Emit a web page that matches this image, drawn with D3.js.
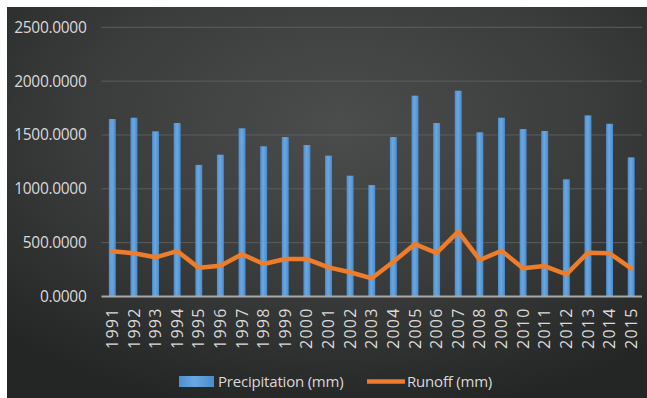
<!DOCTYPE html>
<html>
<head>
<meta charset="utf-8">
<script src="https://cdn.jsdelivr.net/npm/d3@7"></script>
<style>
  html, body { margin: 0; padding: 0; background: #ffffff; }
  svg { display: block; }
  text { font-family: "Open Sans", "Noto Sans", sans-serif; fill: #d9d9d9; }
</style>
</head>
<body>
<svg id="chart" width="647" height="398"></svg>
<script>
// Annual precipitation and runoff, 1991–2015
const years = ["1991","1992","1993","1994","1995","1996","1997","1998","1999","2000",
  "2001","2002","2003","2004","2005","2006","2007","2008","2009","2010",
  "2011","2012","2013","2014","2015"];
const precipitation = [1648, 1660, 1534, 1611, 1222, 1317, 1562, 1395, 1481, 1407,
  1308, 1122, 1035, 1481, 1865, 1611, 1911, 1525, 1660, 1555,
  1537, 1088, 1682, 1604, 1292];
const runoff = [420, 401, 364, 422, 266, 286, 392, 302, 348, 348,
  271, 225, 169, 323, 487, 404, 602, 339, 425, 262,
  283, 206, 407, 401, 262];
const yTicks = [0, 500, 1000, 1500, 2000, 2500];
const seriesNames = ["Precipitation (mm)", "Runoff (mm)"];

const svg = d3.select("#chart");
const W = 647, H = 398;
const plot = { left: 101.5, right: 642, top: 27.3, bottom: 296.5 };

// Dark vignette background
const defs = svg.append("defs");
const bg = defs.append("radialGradient").attr("id", "bg")
  .attr("cx", "52%").attr("cy", "30%").attr("r", "75%");
bg.append("stop").attr("offset", "0%").attr("stop-color", "#4b4c4c");
bg.append("stop").attr("offset", "55%").attr("stop-color", "#3a3b3b");
bg.append("stop").attr("offset", "100%").attr("stop-color", "#242525");

const barGrad = defs.append("linearGradient").attr("id", "barFill")
  .attr("x1", "0").attr("x2", "1").attr("y1", "0").attr("y2", "0");
barGrad.append("stop").attr("offset", "0%").attr("stop-color", "#4d8fcf");
barGrad.append("stop").attr("offset", "45%").attr("stop-color", "#6aa8e2");
barGrad.append("stop").attr("offset", "100%").attr("stop-color", "#4a8bcb");

svg.append("rect").attr("x", 7).attr("y", 7).attr("width", W - 7).attr("height", H - 7)
  .attr("fill", "url(#bg)");

const x = d3.scaleBand().domain(years).range([plot.left, plot.right]).paddingInner(0.68).paddingOuter(0.34);
const y = d3.scaleLinear().domain([0, 2500]).range([plot.bottom, plot.top]);

// Horizontal gridlines
svg.append("g").selectAll("line").data(yTicks.filter(d => d > 0)).join("line")
  .attr("x1", plot.left).attr("x2", plot.right)
  .attr("y1", d => y(d)).attr("y2", d => y(d))
  .attr("stroke", "#5d5e5e").attr("stroke-width", 1);

// Y axis labels
const yAxis = d3.axisLeft(y).tickValues(yTicks).tickFormat(d3.format(".4f")).tickSize(0).tickPadding(15);
const gy = svg.append("g").attr("transform", `translate(${plot.left},0)`).call(yAxis);
gy.select(".domain").remove();
gy.selectAll("text").attr("font-size", 15.5).attr("fill", "#d9d9d9")
  .style("font-family", '"Open Sans", sans-serif').attr("letter-spacing", "-0.3");

// Precipitation bars
svg.append("g").selectAll("rect").data(years).join("rect")
  .attr("x", d => x(d)).attr("width", x.bandwidth())
  .attr("y", (d, i) => y(precipitation[i]))
  .attr("height", (d, i) => y(0) - y(precipitation[i]))
  .attr("fill", "url(#barFill)");

// Baseline axis with rotated year labels
const xAxis = d3.axisBottom(x).tickSize(0).tickPadding(6);
const gx = svg.append("g").attr("transform", `translate(0,${plot.bottom})`).call(xAxis);
gx.select(".domain").attr("stroke", "#a9a9a9").attr("stroke-width", 2)
  .attr("d", `M${plot.left},0H${plot.right}`);
gx.selectAll("text")
  .attr("font-size", 16).attr("fill", "#d9d9d9")
  .style("font-family", '"Open Sans", sans-serif')
  .attr("letter-spacing", "1.2")
  .attr("text-anchor", "end")
  .attr("dy", "0.35em")
  .attr("transform", "translate(0,11) rotate(-90)")
  .attr("x", 0).attr("y", 0);

// Runoff line
const line = d3.line()
  .x((d, i) => x(years[i]) + x.bandwidth() / 2)
  .y(d => y(d));
svg.append("path").datum(runoff)
  .attr("d", line)
  .attr("fill", "none").attr("stroke", "#ee7d2b").attr("stroke-width", 4.5)
  .attr("stroke-linejoin", "round").attr("stroke-linecap", "round");

// Legend
const lg = svg.append("g");
lg.append("rect").attr("x", 179).attr("y", 376).attr("width", 35).attr("height", 11)
  .attr("fill", "url(#barFill)");
lg.append("text").attr("x", 218).attr("y", 387).attr("font-size", 15)
  .attr("letter-spacing", "-0.2").text(seriesNames[0]);
lg.append("line").attr("x1", 367).attr("x2", 405).attr("y1", 381.5).attr("y2", 381.5)
  .attr("stroke", "#ee7d2b").attr("stroke-width", 4.5);
lg.append("text").attr("x", 407).attr("y", 387).attr("font-size", 15)
  .attr("letter-spacing", "-0.2").text(seriesNames[1]);
</script>
</body>
</html>
